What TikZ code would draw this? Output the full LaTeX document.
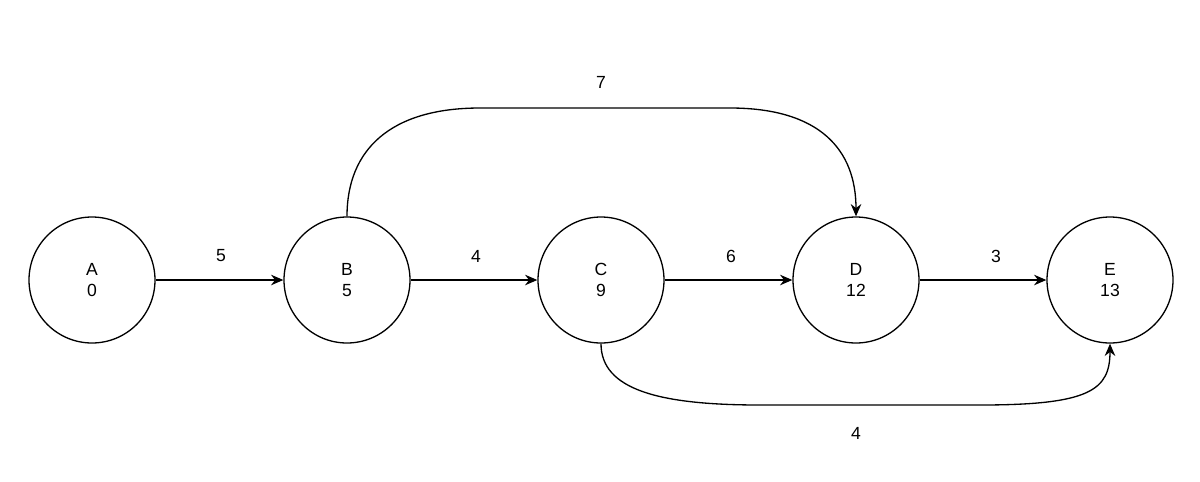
\documentclass[tikz,border=0pt]{standalone}
\usepackage{fontspec}
\setmainfont{Liberation Sans}
\usetikzlibrary{arrows.meta}
\begin{document}
\begin{tikzpicture}[x=0.02cm,y=-0.02cm,
  ev/.style={circle,draw,line width=0.75pt,minimum size=126*0.02cm,inner sep=0pt,align=center,font=\fontsize{10}{12}\selectfont},
  ar/.style={line width=0.75pt,-{Stealth[length=7pt,width=6pt]}},
  lb/.style={font=\fontsize{10}{12}\selectfont}]
\useasboundingbox (0,0) rectangle (1200,481);
\node[ev] (A) at (92,280) {A\\0};
\node[ev] (B) at (347,280) {B\\5};
\node[ev] (C) at (601,280) {C\\9};
\node[ev] (D) at (856,280) {D\\12};
\node[ev] (E) at (1110,280) {E\\13};
\draw[ar] (A) -- (B);
\draw[ar] (B) -- (C);
\draw[ar] (C) -- (D);
\draw[ar] (D) -- (E);
\node[lb] (l1) at (221,256) {5};
\node[lb] (l2) at (476,256) {4};
\node[lb] (l3) at (731,256) {6};
\node[lb] (l4) at (996,256) {3};
\draw[ar] (B.north) .. controls (347,150) and (390,108) .. (480,108) -- (730,108) .. controls (820,108) and (856,150) .. (D.north);
\node[lb] (l5) at (601,82) {7};
\draw[ar] (C.south) .. controls (601,390) and (660,405) .. (760,405) -- (980,405) .. controls (1090,405) and (1110,390) .. (E.south);
\node[lb] (l6) at (856,433) {4};
\end{tikzpicture}
\end{document}
